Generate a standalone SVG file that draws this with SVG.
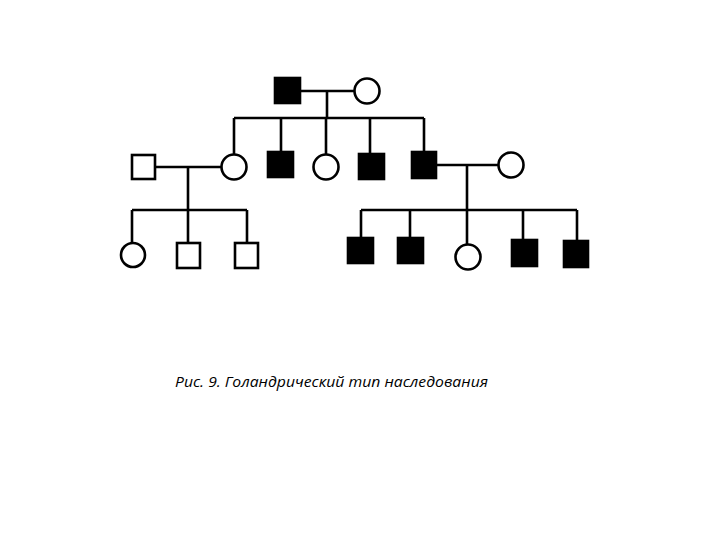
<svg xmlns="http://www.w3.org/2000/svg" width="720" height="540" viewBox="0 0 720 540">
<style>
.l{stroke:#000;stroke-width:2.6;fill:none}
.f{fill:#000;stroke:#000;stroke-width:2.6}
.e{fill:#fff;stroke:#000;stroke-width:2.6}
.t{font-family:"Open Sans","Liberation Sans",sans-serif;font-style:italic;font-size:15px;fill:#000}
</style>
<rect width="720" height="540" fill="#fff"/>
<g id="connectors">
<path class="l" d="M300 91H355M327 91V118M234 118H424M234 118V155M281 118V152M326 118V155M370 118V154M424 118V152"/>
<path class="l" d="M155 167H222M188 167V210M132 210H247M132 210V243M188 210V243M247 210V243"/>
<path class="l" d="M436 165H499M467 165V210M361 210H577M361 210V238M410 210V238M467 210V245M523 210V240M577 210V241"/>
</g>
<g id="i1"><rect class="f" x="275" y="78" width="25" height="25"/></g>
<g id="i2"><circle class="e" cx="367" cy="91" r="12.5"/></g>
<g id="ii1"><rect class="e" x="132" y="155" width="23" height="24"/></g>
<g id="ii2"><circle class="e" cx="234" cy="167" r="12.5"/></g>
<g id="ii3"><rect class="f" x="268" y="152" width="25" height="25"/></g>
<g id="ii4"><circle class="e" cx="326" cy="167" r="12.5"/></g>
<g id="ii5"><rect class="f" x="359" y="154" width="25" height="25"/></g>
<g id="ii6"><rect class="f" x="412" y="152" width="24" height="26"/></g>
<g id="ii7"><circle class="e" cx="511" cy="165" r="12.5"/></g>
<g id="iii1"><circle class="e" cx="133" cy="255" r="12"/></g>
<g id="iii2"><rect class="e" x="177" y="243" width="23" height="25"/></g>
<g id="iii3"><rect class="e" x="235" y="243" width="23" height="25"/></g>
<g id="iii4"><rect class="f" x="348" y="238" width="25" height="25"/></g>
<g id="iii5"><rect class="f" x="398" y="238" width="25" height="25"/></g>
<g id="iii6"><circle class="e" cx="468" cy="257" r="12.5"/></g>
<g id="iii7"><rect class="f" x="512" y="240" width="25" height="26"/></g>
<g id="iii8"><rect class="f" x="564" y="241" width="24" height="26"/></g>
<text class="t" x="175" y="387" textLength="313" lengthAdjust="spacingAndGlyphs">Рис. 9. Голандрический тип наследования</text>
</svg>
